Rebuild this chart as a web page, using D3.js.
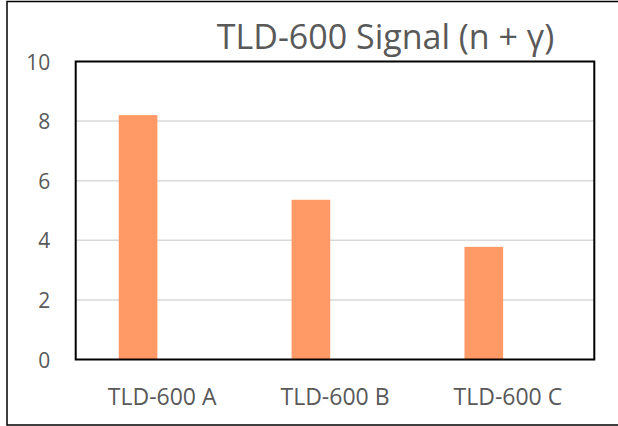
<!DOCTYPE html>
<html>
<head>
<meta charset="utf-8">
<script src="https://cdn.jsdelivr.net/npm/d3@7"></script>
<style>
  html, body { margin: 0; padding: 0; background: #fff; }
  svg { display: block; }
  text { font-family: "Open Sans", "Noto Sans", sans-serif; fill: #595959; }
</style>
</head>
<body>
<svg id="chart" width="618" height="426"></svg>
<script>
// Chart data
const title = "TLD-600 Signal (n + γ)";
const categories = ["TLD-600 A", "TLD-600 B", "TLD-600 C"];
const signalValues = [8.2, 5.36, 3.78];
// Two series slots per category; only the first carries values
const seriesKeys = ["signal", "spare"];
const yTicks = [0, 2, 4, 6, 8, 10];

const svg = d3.select("#chart");
const W = 618, H = 426;
const plot = { left: 75.7, right: 594.3, top: 61.5, bottom: 359.5 };

// Outer chart frame
svg.append("rect")
  .attr("x", 7).attr("y", 1.5)
  .attr("width", W + 10).attr("height", 423.5)
  .attr("fill", "#fff").attr("stroke", "#000").attr("stroke-width", 1.5);

const x = d3.scaleBand().domain(categories).range([plot.left, plot.right]).padding(0);
const xInner = d3.scaleBand().domain(seriesKeys).range([0, x.bandwidth()])
  .paddingInner(0.197).paddingOuter(0.894);
const y = d3.scaleLinear().domain([0, 10]).range([plot.bottom, plot.top]);

// Gridlines
svg.append("g")
  .selectAll("line")
  .data(yTicks.filter(t => t > 0 && t < 10))
  .join("line")
  .attr("x1", plot.left).attr("x2", plot.right)
  .attr("y1", d => y(d)).attr("y2", d => y(d))
  .attr("stroke", "#d9d9d9").attr("stroke-width", 1.5);

// Bars
svg.append("g")
  .selectAll("rect")
  .data(categories.map((c, i) => ({ c, v: signalValues[i] })))
  .join("rect")
  .attr("x", d => x(d.c) + xInner("signal"))
  .attr("width", xInner.bandwidth())
  .attr("y", d => y(d.v))
  .attr("height", d => y(0) - y(d.v))
  .attr("fill", "#ff9966");

// Plot frame
svg.append("rect")
  .attr("x", plot.left).attr("y", plot.top)
  .attr("width", plot.right - plot.left).attr("height", plot.bottom - plot.top)
  .attr("fill", "none").attr("stroke", "#000").attr("stroke-width", 2);

// Y axis labels
const yAxis = d3.axisLeft(y).tickValues(yTicks).tickSize(0).tickPadding(25.5).tickFormat(d3.format("d"));
svg.append("g")
  .attr("transform", `translate(${plot.left},0)`)
  .call(yAxis)
  .call(g => g.select(".domain").remove())
  .call(g => g.attr("font-size", null).attr("font-family", null))
  .call(g => g.selectAll("text").attr("font-size", 21).attr("fill", null).attr("dy", "0.36em"));

// X axis labels
const xAxis = d3.axisBottom(x).tickSize(0);
svg.append("g")
  .attr("transform", `translate(0,${plot.bottom})`)
  .call(xAxis)
  .call(g => g.select(".domain").remove())
  .call(g => g.attr("font-size", null).attr("font-family", null))
  .call(g => g.selectAll("text").attr("font-size", 23).attr("fill", null)
    .attr("y", 45.5).attr("dy", 0));

// Title
svg.append("text")
  .attr("x", 385.5).attr("y", 49.3)
  .attr("text-anchor", "middle")
  .attr("font-size", 34)
  .text(title);
</script>
</body>
</html>
